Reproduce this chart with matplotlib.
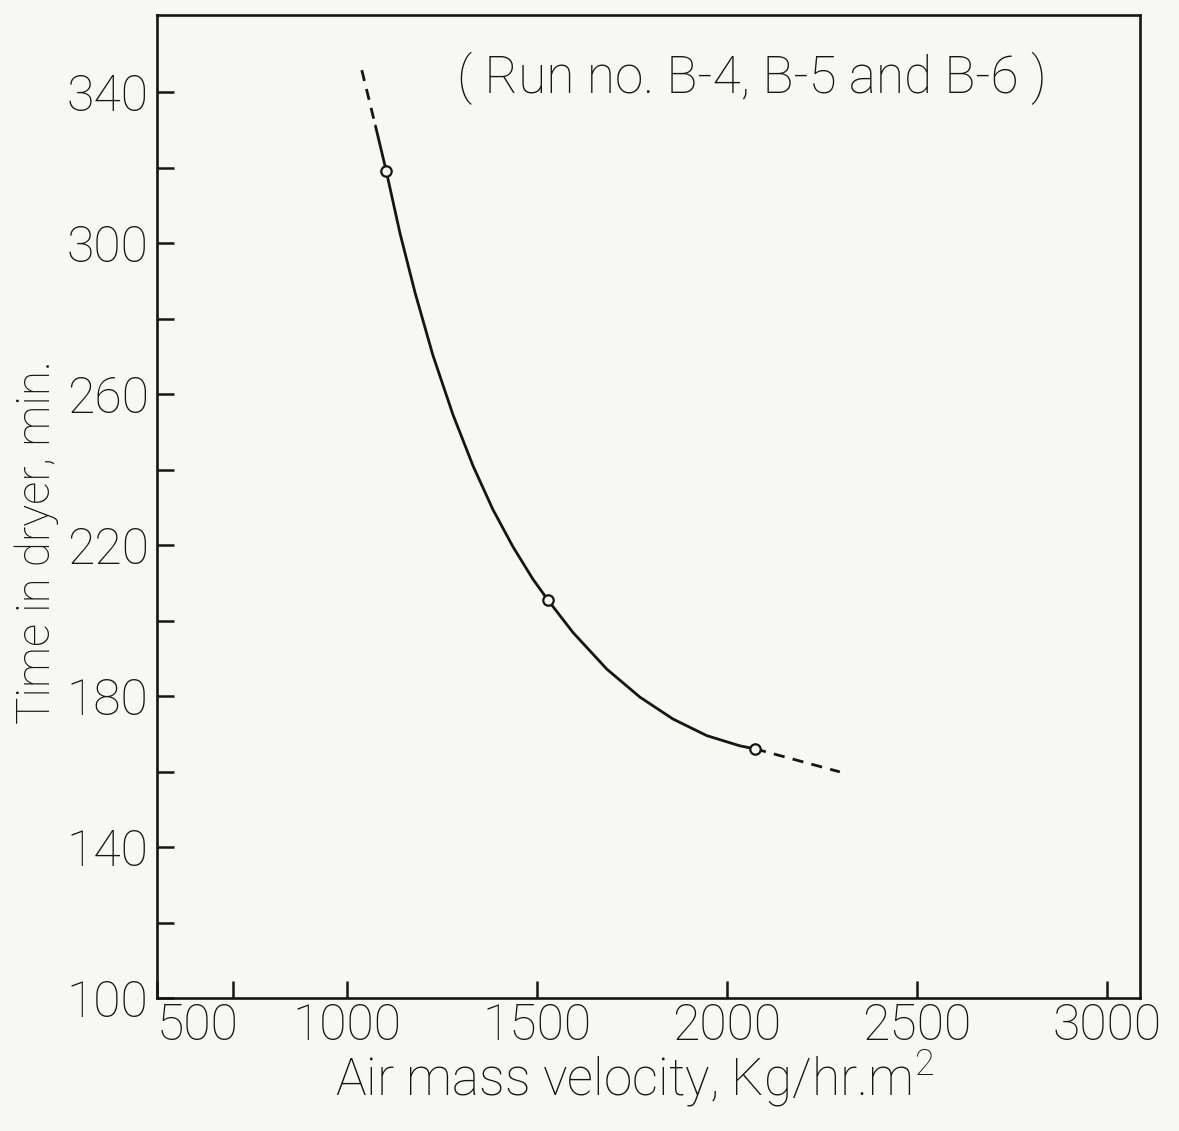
import matplotlib
matplotlib.use("Agg")
import matplotlib.pyplot as plt
from matplotlib import font_manager

# ---- data ----
points_x = [1103, 1529, 2074]          # measured runs B-4, B-5, B-6
points_y = [319.2, 205.4, 166]

curve_x = [1075, 1103, 1139, 1179, 1226, 1279, 1332, 1384, 1437, 1489,
           1529, 1595, 1684, 1771, 1858, 1947, 2034, 2074]
curve_y = [331.0, 319.2, 302.8, 286.9, 270.3, 254.5, 240.9, 229.4, 219.5, 211.0,
           205.4, 196.8, 187.1, 179.7, 173.9, 169.5, 166.8, 166.0]

ext_top_x = [1039, 1075]
ext_top_y = [345.8, 331.0]
ext_bot_x = [2074, 2297]
ext_bot_y = [166.0, 159.9]

x_ticks = [500, 700, 1000, 1500, 2000, 2500, 3000]
x_tick_labels = ["500", "", "1000", "1500", "2000", "2500", "3000"]
y_ticks = [100, 120, 140, 160, 180, 200, 220, 240, 260, 280, 300, 320, 340]
y_tick_labels = ["100", "", "140", "", "180", "", "220", "", "260", "", "300", "", "340"]

x_label = "Air mass velocity, Kg/hr.m$^{2}$"
y_label = "Time in dryer, min."
note = "( Run no. B-4, B-5 and B-6 )"

# ---- style ----
avail = {f.name for f in font_manager.fontManager.ttflist}
fam = [f for f in ["Roboto", "Open Sans", "DejaVu Sans"] if f in avail] + ["DejaVu Sans"]
plt.rcParams["font.family"] = fam
plt.rcParams["mathtext.fontset"] = "custom"
plt.rcParams["mathtext.rm"] = fam[0] + ":light"
plt.rcParams["mathtext.it"] = fam[0] + ":light"
ink = "#151515"
paper = "#f7f7f4"
fw = "light"

fig = plt.figure(figsize=(11.79, 11.31), dpi=100, facecolor=paper)
ax = fig.add_axes([157 / 1179, 1 - 998 / 1131, 983 / 1179, 983 / 1131])
ax.set_facecolor(paper)

ax.plot(curve_x, curve_y, color=ink, lw=2.0, solid_capstyle="round",
        solid_joinstyle="round")
ax.plot(ext_top_x, ext_top_y, color=ink, lw=2.0, ls=(0, (4, 3)))
ax.plot(ext_bot_x, ext_bot_y, color=ink, lw=2.0, ls=(0, (4, 3)))
ax.plot(points_x, points_y, ls="none", marker="o", ms=7.5, mfc=paper, mec=ink, mew=1.6)

ax.set_xlim(500, 3087)
ax.set_ylim(100, 360.4)

ax.set_xticks(x_ticks)
ax.set_xticklabels(x_tick_labels)
ax.set_yticks(y_ticks)
ax.set_yticklabels(y_tick_labels)
ax.tick_params(direction="in", length=12, width=1.8, color=ink,
               labelsize=36, labelcolor=ink)
ax.tick_params(axis="y", pad=6)
ax.tick_params(axis="x", pad=3)
for lab in ax.get_xticklabels() + ax.get_yticklabels():
    lab.set_fontweight(fw)
ax.get_xticklabels()[0].set_horizontalalignment("left")

for s in ax.spines.values():
    s.set_linewidth(1.9)
    s.set_color(ink)

ax.set_xlabel(x_label, fontsize=37, color=ink, fontweight=fw)
ax.xaxis.set_label_coords(0.486, -0.051)
ax.set_ylabel(y_label, fontsize=33, color=ink, fontweight=fw)
ax.yaxis.set_label_coords(-0.100, 0.464)

ax.text(0.605, 0.936, note, transform=ax.transAxes, fontsize=37, color=ink,
        ha="center", va="center", fontweight=fw)

fig.savefig("out.png", dpi=100, facecolor=paper)
